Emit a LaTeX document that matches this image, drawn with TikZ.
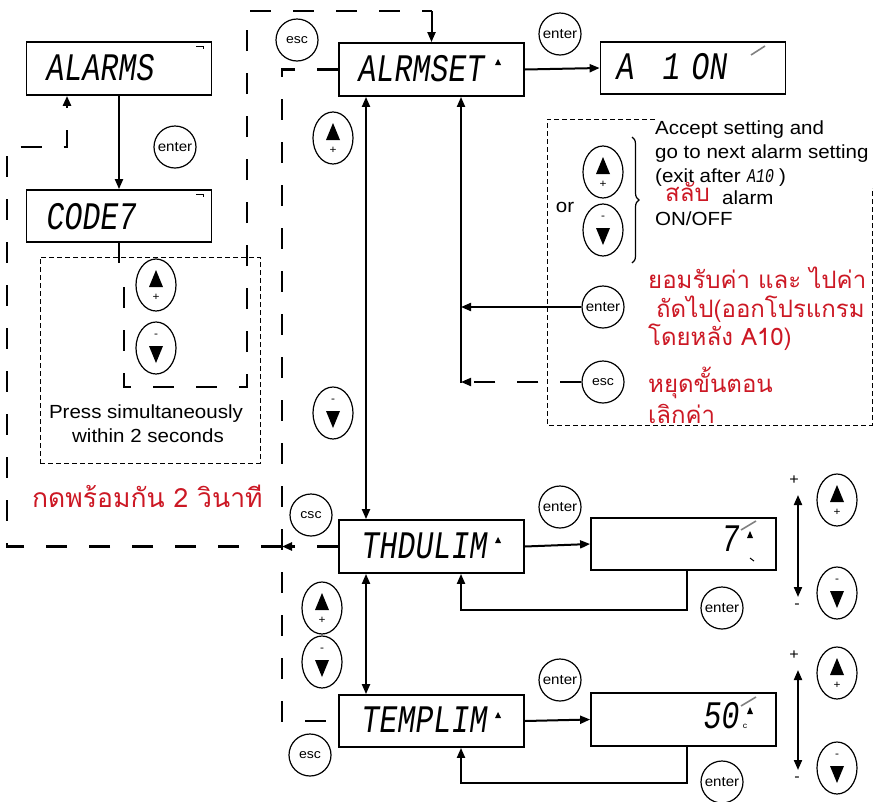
\documentclass[tikz,border=0pt]{standalone}
\usepackage{fontspec}
\setmainfont{Liberation Sans}[FakeStretch=1.08]
\newfontfamily\thaifont[Script=Thai]{Loma}
\newfontfamily\lcdfont[FakeSlant=0.18]{Liberation Mono}
\usetikzlibrary{arrows.meta,shapes.geometric,decorations.pathreplacing,calc}
\definecolor{thred}{RGB}{204,24,36}
\tikzset{
  lcd/.style={draw, line width=1.8pt, minimum width=185pt, minimum height=53pt, inner sep=0},
  lcdtxt/.style={font=\lcdfont\fontsize{30}{30}\selectfont, inner sep=0},
  key/.style={draw, circle, line width=1.2pt, minimum size=42pt, inner sep=0, font=\fontsize{13}{13}\selectfont},
  btn/.style={draw, ellipse, line width=1.2pt, minimum width=40pt, minimum height=52pt, inner sep=0},
  tip/.style={-{Triangle[length=10pt,width=8pt]}},
  arr/.style={line width=2pt, tip},
  darr/.style={line width=2pt, {Triangle[length=10pt,width=8pt]}-{Triangle[length=10pt,width=8pt]}},
  ldash/.style={line width=2.4pt, dash pattern=on 21pt off 22pt},
  sdash/.style={line width=1pt, dash pattern=on 5pt off 3pt},
  txt/.style={font=\fontsize{19}{22}\selectfont, inner sep=0},
  thtxt/.style={font=\thaifont\fontsize{24}{27}\selectfont, text=thred, inner sep=0},
  pm/.style={font=\fontsize{15}{15}\selectfont, inner sep=0},
  upbtn/.pic={\node[btn] (-e) at (0,0) {};
    \fill (0,-15) -- (7,2) -- (-7,2) -- cycle;
    \node[font=\fontsize{11}{11}\selectfont, inner sep=0] (-s) at (0,12) {+};},
  dnbtn/.pic={\node[btn] (-e) at (0,0) {};
    \fill (0,15) -- (7,-2) -- (-7,-2) -- cycle;
    \node[font=\fontsize{11}{11}\selectfont, inner sep=0] (-s) at (0,-12) {-};},
}
\begin{document}
\begin{tikzpicture}[x=1pt,y=-1pt]
\useasboundingbox (0,0) rectangle (881,801);

% helper coordinates
\coordinate (ytop) at (0,11);
\coordinate (xesc) at (282,0);
\coordinate (xa) at (366,0);
\coordinate (xb) at (461,0);
\coordinate (xr) at (687,0);
\coordinate (yr1) at (0,610);
\coordinate (yr2) at (0,783);
\coordinate (ylow) at (0,383);

% LCD boxes
\node[lcd] (alarms) at (119,68.5) {};
\node[lcd, minimum height=52pt] (code) at (119,216) {};
\node[lcd] (alrmset) at (431.5,69.5) {};
\node[lcd, minimum height=52pt] (aon) at (693,68) {};
\node[lcd] (thdulim) at (431.5,546.5) {};
\node[lcd, minimum height=52pt] (templim) at (431.5,721) {};
\node[lcd, minimum height=52pt] (v7) at (683.5,544) {};
\node[lcd] (v50) at (683.5,719.5) {};

% LCD texts
\node[lcdtxt, anchor=west] (talarms) at (45,68) {\scalebox{1}[1.3]{ALARMS}};
\node[lcdtxt, anchor=west] (tcode) at (45,217) {\scalebox{1}[1.3]{CODE7}};
\node[lcdtxt, anchor=west] (talrmset) at (357,69) {\scalebox{1}[1.3]{ALRMSET}};
\node[lcdtxt, anchor=west] (ta) at (615,67) {\scalebox{1}[1.3]{A}};
\node[lcdtxt] (t1) at (670,67) {\scalebox{1}[1.3]{1}};
\node[lcdtxt, anchor=west] (ton) at (690,67) {\scalebox{1}[1.3]{ON}};
\node[lcdtxt, anchor=west] (tthd) at (360,546) {\scalebox{1}[1.3]{THDULIM}};
\node[lcdtxt, anchor=west] (ttemp) at (360,720) {\scalebox{1}[1.3]{TEMPLIM}};
\node[lcdtxt, anchor=east] (t7) at (739,539) {\scalebox{1}[1.3]{7}};
\node[lcdtxt, anchor=east] (t50) at (739,716) {\scalebox{1}[1.3]{50}};

% small display marks
\draw[line width=0.8pt] (196,46) -- (203,46) -- (203,49);
\draw[line width=0.8pt] (196,194) -- (203,194) -- (203,197);
\fill (498,59) -- (495,65) -- (501,65) -- cycle;
\fill (498,537) -- (495,543) -- (501,543) -- cycle;
\fill (498,712) -- (495,718) -- (501,718) -- cycle;
\draw[line width=1.6pt, gray] (751,55) -- (765,46);
\draw[line width=1.6pt, gray] (741,530) -- (756,521);
\fill (750,531) -- (747,538) -- (753,538) -- cycle;
\draw[line width=1pt] (750,558) -- (754,561);
\draw[line width=1.6pt, gray] (741,706) -- (756,697);
\fill (750,707) -- (747,714) -- (753,714) -- cycle;
\node[font=\fontsize{8}{8}\selectfont, inner sep=0] (cdeg) at (745,726) {c};

% keys
\node[key, font=\fontsize{14}{14}\selectfont] (enter1) at (175,147) {enter};
\node[key, font=\fontsize{14}{14}\selectfont] (enter3) at (560,34) {enter};
\node[key, font=\fontsize{14}{14}\selectfont] (enter2) at (603,307) {enter};
\node[key] (esc2) at (603,382) {esc};
\node[key] (esc1) at (297,40) {esc};
\node[key] (esc3) at (311,515) {csc};
\node[key] (esc4) at (310,755) {esc};
\node[key, font=\fontsize{14}{14}\selectfont] (enter4) at (560,507) {enter};
\node[key, font=\fontsize{14}{14}\selectfont] (enter5) at (722,608) {enter};
\node[key, font=\fontsize{14}{14}\selectfont] (enter6) at (560,680) {enter};
\node[key, font=\fontsize{14}{14}\selectfont] (enter7) at (722,782) {enter};

% buttons
\pic (bu1) at (156,285) {upbtn};
\pic (bd1) at (156,348) {dnbtn};
\pic (bu2) at (333,138) {upbtn};
\pic (bd2) at (333,413) {dnbtn};
\pic (bu3) at (322,608) {upbtn};
\pic (bd3) at (322,662) {dnbtn};
\pic (bu4) at (837,500) {upbtn};
\pic (bd4) at (837,593) {dnbtn};
\pic (bu5) at (837,673) {upbtn};
\pic (bd5) at (837,768) {dnbtn};
\pic (bu6) at (603,172) {upbtn};
\pic (bd6) at (603,230) {dnbtn};

% left dashed box and texts
\node[draw, sdash, minimum width=220pt, minimum height=206pt, inner sep=0] (pbox) at (150,360) {};
\node[txt, anchor=base] (press1) at (146,418) {Press simultaneously};
\node[txt, anchor=base] (press2) at (148,442) {within 2 seconds};
\node[thtxt, font=\thaifont\fontsize{26.5}{30}\selectfont, anchor=base west] (thleft) at (32,507) {กดพร้อมกัน 2 วินาที};

% connectors top-left
\draw[arr] (alarms.south) -- (code.north);
\coordinate (cend) at (119,263);
\draw[line width=2pt] (code.south) -- (cend);
\draw[ldash] (124,287) -- (124,387) -- (247,387) -- (247,11) -- (alrmset.north |- ytop);
\draw[arr] (alrmset.north |- ytop) -- (alrmset.north);

% esc paths
\draw[ldash] (alrmset.west) -| (xesc |- templim.west) -- (templim.west);
\draw[ldash, tip] (thdulim.west) -- (xesc |- thdulim.west);
\coordinate (c1) at (7,546.5);
\coordinate (c2) at (7,147);
\coordinate (c3) at (67,147);
\draw[ldash, tip] (xesc |- thdulim.west) -- (c1) -- (c2) -- (c3) -- (c3 |- alarms.south);

% main flow
\draw[arr] (alrmset.east) -- (aon.west);
\draw[darr] (alrmset.south -| xa) -- (thdulim.north -| xa);
\draw[darr] (thdulim.south -| xa) -- (templim.north -| xa);
\draw[arr] (xb |- ylow) -- (alrmset.south -| xb);
\draw[arr] (enter2.west) -- (enter2.west -| xb);
\draw[ldash, line width=2pt, tip] (esc2.west) -- (esc2.west -| xb);

\draw[arr] (thdulim.east) -- (v7.west);
\draw[arr] (v7.south -| xr) |- (xb |- yr1) -- (thdulim.south -| xb);
\draw[arr] (templim.east) -- (v50.west);
\draw[arr] (v50.south -| xr) |- (xb |- yr2) -- (templim.south -| xb);

% right up/down arrows
\coordinate (p1) at (798,495);
\coordinate (m1) at (798,597);
\coordinate (p2) at (798,670);
\coordinate (m2) at (798,770);
\draw[darr] (p1) -- (m1);
\draw[darr] (p2) -- (m2);
\node[pm] (plus1) at (794,480) {+};
\node[pm] (minus1) at (797,606) {-};
\node[pm] (plus2) at (794,655) {+};
\node[pm] (minus2) at (797,779) {-};

% right dashed box
\draw[sdash] (655,119) -- (547,119) -- (547,425) -- (872,425) -- (872,188);
\draw[line width=1.2pt, decorate, decoration={brace, amplitude=7pt}] (632,137) -- (632,263);
\node[txt, anchor=base] (tor) at (565,212) {or};
\node[txt, anchor=base west] (acc1) at (655,134) {Accept setting and};
\node[txt, anchor=base west] (acc2) at (655,158) {go to next alarm setting};
\node[txt, anchor=base west] (acc3) at (655,182) {(exit after {\lcdfont\fontsize{15}{15}\selectfont\scalebox{1}[1.3]{A10}} )};
\node[thtxt, anchor=base west] (slab) at (665,201) {สลับ};
\node[txt, anchor=base west] (alarmw) at (722,204) {alarm};
\node[txt, anchor=base west] (onoff) at (655,225) {ON/OFF};

\node[thtxt, anchor=base west] (h1) at (648,288) {ยอมรับค่า และ ไปค่า};
\node[thtxt, anchor=base west] (h2) at (656,317) {ถัดไป(ออกโปรแกรม};
\node[thtxt, anchor=base west] (h3) at (648,345) {โดยหลัง A10)};
\node[thtxt, anchor=base west] (h4) at (648,392) {หยุดขั้นตอน};
\node[thtxt, anchor=base west] (h5) at (648,423) {เลิกค่า};
\end{tikzpicture}
\end{document}
